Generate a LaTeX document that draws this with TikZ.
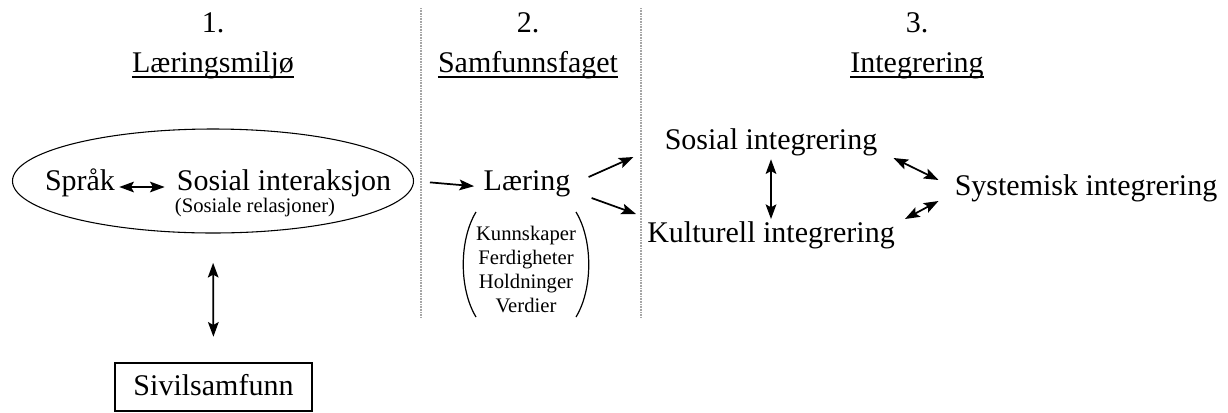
\documentclass[tikz,border=0pt]{standalone}
\usepackage{fontspec}
\setmainfont{Liberation Serif}
\usetikzlibrary{arrows.meta,shapes.geometric,calc}
\tikzset{
  big/.style={font=\fontsize{22.5}{27}\selectfont, inner sep=0pt, text height=0.7em, text depth=0.25em, anchor=base},
  small/.style={font=\fontsize{15.5}{18}\selectfont, inner sep=0pt, text height=0.7em, text depth=0.25em, anchor=base},
  arr/.style={line width=1.3pt, {Stealth[length=11pt,width=8pt,inset=2.2pt]}-{Stealth[length=11pt,width=8pt,inset=2.2pt]}},
  arrone/.style={line width=1.3pt, -{Stealth[length=11pt,width=8pt,inset=2.2pt]}},
  divider/.style={gray!70, line width=2.2pt, dash pattern=on 0.7pt off 0.5pt},
  uline/.style={line width=1pt},
}
\begin{document}
\begin{tikzpicture}[x=0.75pt,y=-0.75pt]
\useasboundingbox (0,0) rectangle (1228,412);
% dividers
\coordinate (d1t) at (421,8); \coordinate (d1b) at (421,317);
\coordinate (d2t) at (641,8); \coordinate (d2b) at (641,317);
\draw[divider] (d1t) -- (d1b);
\draw[divider] (d2t) -- (d2b);
% headings
\node[big] (n1) at (213,32) {1.};
\node[big] (h1) at (213,72) {Læringsmiljø};
\draw[uline] ($(h1.base west)+(0,5)$) -- ($(h1.base east)+(0,5)$);
\node[big] (n2) at (528,32) {2.};
\node[big] (h2) at (528,72) {Samfunnsfaget};
\draw[uline] ($(h2.base west)+(0,5)$) -- ($(h2.base east)+(0,5)$);
\node[big] (n3) at (917,32) {3.};
\node[big] (h3) at (917,72) {Integrering};
\draw[uline] ($(h3.base west)+(0,5)$) -- ($(h3.base east)+(0,5)$);
% section 1
\node[draw, ellipse, line width=0.8pt, inner sep=0pt, minimum width=300.75pt, minimum height=78pt] (env) at (213,181) {};
\node[big] (sprak) at (80,190) {Språk};
\node[big] (soc) at (284,190) {Sosial interaksjon};
\node[small] (rel) at (255,212) {(Sosiale relasjoner)};
\draw[arr, shorten <=3pt, shorten >=9pt] (sprak.east) -- (soc.west);
\node[draw, line width=1.4pt, inner sep=0pt, minimum width=147.75pt, minimum height=36pt] (civ) at (213.5,387) {};
\node[big] (civt) at ($(civ.center)+(0,8)$) {Sivilsamfunn};
\draw[arr, shorten <=22pt, shorten >=19pt] (env.south) -- (civ.north);
% section 2
\node[big] (laer) at (527,190) {Læring};
\draw[arrone, shorten >=7pt, shorten <=12pt] (env.east) -- (laer.west);
\node[small] (k1) at (526,240) {Kunnskaper};
\node[small] (k2) at (526,264) {Ferdigheter};
\node[small] (k3) at (526,288) {Holdninger};
\node[small] (k4) at (526,312) {Verdier};
\coordinate (lpt) at (476,212); \coordinate (lpb) at (476,317);
\coordinate (rpt) at (576,212); \coordinate (rpb) at (576,317);
\draw[line width=0.9pt] (lpt) .. controls (459,240) and (459,289) .. (lpb);
\draw[line width=0.9pt] (rpt) .. controls (593,240) and (593,289) .. (rpb);
% section 3
\node[big] (sosint) at (771,149) {Sosial integrering};
\node[big] (kultur) at (771,242) {Kulturell integrering};
\node[big] (system) at (1086,195) {Systemisk integrering};
\draw[arrone] ($(laer.east)+(18,-10)$) -- ($(sosint.west)+(-31,11)$);
\draw[arrone] ($(laer.east)+(21,11)$) -- ($(kultur.west)+(-11,-25)$);
\draw[arr, shorten <=5pt, shorten >=10pt] (sosint.south) -- (kultur.north);
\draw[arr] ($(sosint.east)+(16,12)$) -- ($(system.west)+(-16,-12)$);
\draw[arr] ($(kultur.east)+(10,-20)$) -- ($(system.west)+(-16,9)$);
\end{tikzpicture}
\end{document}
